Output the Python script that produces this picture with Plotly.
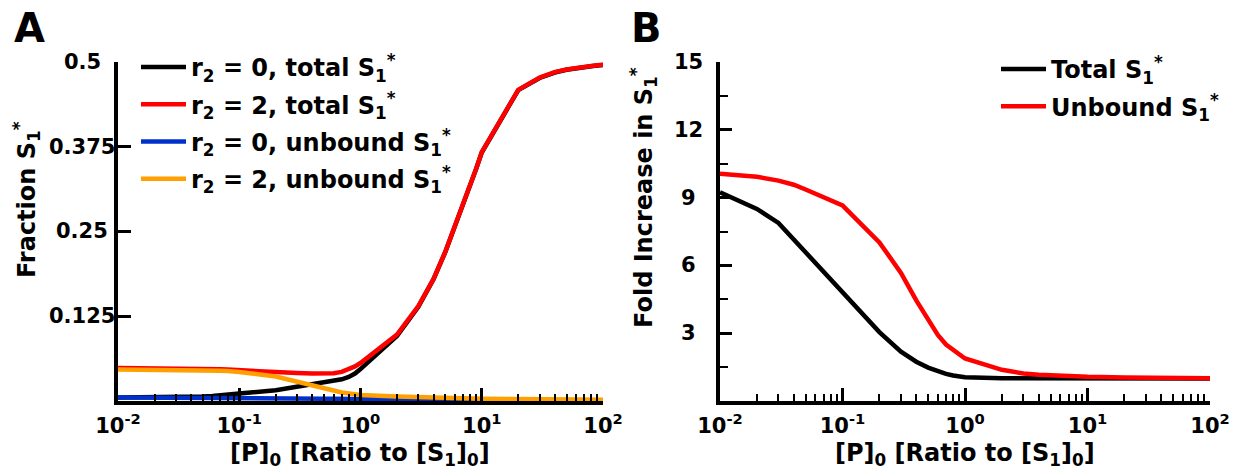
import plotly.graph_objects as go

# ---------------- data ----------------
p0 = [0.01, 0.02, 0.03, 0.04, 0.05, 0.06, 0.07, 0.08, 0.09,
      0.1, 0.2, 0.3, 0.4, 0.5, 0.6, 0.7, 0.8, 0.9,
      1, 2, 3, 4, 5, 6, 7, 8, 9,
      10, 20, 30, 40, 50, 60, 70, 80, 90, 100]

# Panel A: fraction S1*
total_r0 = [0.0052, 0.0054, 0.0057, 0.0062, 0.0068, 0.0075, 0.0083, 0.0091, 0.0100,
            0.0110, 0.0158, 0.0205, 0.0245, 0.0275, 0.0300, 0.0320, 0.0355, 0.0405,
            0.0470, 0.0960, 0.1390, 0.1795, 0.2195, 0.2565, 0.2895, 0.3175, 0.3425,
            0.3665, 0.4585, 0.4765, 0.4845, 0.4885, 0.4910, 0.4926, 0.4938, 0.4948, 0.4956]
total_r2 = [0.0488, 0.0487, 0.0486, 0.0484, 0.0481, 0.0477, 0.0470, 0.0464, 0.0458,
            0.0452, 0.0430, 0.0412, 0.0404, 0.0403, 0.0410, 0.0430, 0.0465, 0.0510,
            0.0560, 0.0980, 0.1400, 0.1800, 0.2200, 0.2570, 0.2900, 0.3180, 0.3430,
            0.3670, 0.4590, 0.4770, 0.4850, 0.4890, 0.4915, 0.4930, 0.4942, 0.4952, 0.4960]
unbound_r0 = [0.0050, 0.0050, 0.0050, 0.0049, 0.0049, 0.0049, 0.0048, 0.0048, 0.0048,
              0.0047, 0.0044, 0.0041, 0.0038, 0.0035, 0.0032, 0.0030, 0.0028, 0.0026,
              0.0024, 0.0013, 0.0009, 0.0007, 0.0006, 0.0005, 0.0004, 0.0004, 0.0003,
              0.0003, 0.0002, 0.0001, 0.0001, 0.0001, 0.0001, 0.0000, 0.0000, 0.0000, 0.0000]
unbound_r2 = [0.0463, 0.0462, 0.0460, 0.0458, 0.0455, 0.0451, 0.0446, 0.0441, 0.0435,
              0.0428, 0.0360, 0.0290, 0.0230, 0.0190, 0.0155, 0.0125, 0.0110, 0.0098,
              0.0090, 0.0065, 0.0055, 0.0048, 0.0044, 0.0041, 0.0038, 0.0036, 0.0035,
              0.0034, 0.0028, 0.0025, 0.0023, 0.0022, 0.0021, 0.0020, 0.0020, 0.0019, 0.0019]

# Panel B: fold increase in S1*
fold_total = [9.24, 8.50, 7.88, 7.14, 6.55, 6.08, 5.69, 5.35, 5.05,
              4.78, 3.05, 2.18, 1.74, 1.48, 1.31, 1.20, 1.13, 1.08,
              1.05, 1.01, 1.005, 1.0, 1.0, 1.0, 1.0, 1.0, 1.0,
              1.0, 1.0, 1.0, 1.0, 1.0, 1.0, 1.0, 1.0, 1.0, 1.0]
fold_unbound = [10.06, 9.92, 9.75, 9.57, 9.36, 9.17, 9.01, 8.88, 8.76,
                8.65, 7.02, 5.67, 4.45, 3.58, 2.92, 2.50, 2.26, 2.05,
                1.88, 1.38, 1.22, 1.16, 1.13, 1.11, 1.10, 1.09, 1.08,
                1.07, 1.04, 1.03, 1.025, 1.02, 1.02, 1.015, 1.015, 1.01, 1.01]

x_tickvals = [0.01, 0.1, 1, 10, 100]
x_ticktext = ["10<sup>-2</sup>", "10<sup>-1</sup>", "10<sup>0</sup>", "10<sup>1</sup>", "10<sup>2</sup>"]
yA_tickvals = [0.125, 0.25, 0.375, 0.5]
yA_ticktext = ["0.125", "0.25", "0.375", "0.5"]
yB_tickvals = [3, 6, 9, 12, 15]
yB_ticktext = ["3", "6", "9", "12", "15"]
yB_minor = [1.5, 4.5, 7.5, 10.5, 13.5]

names_A = ["r<sub>2</sub> = 0, total S<sub>1</sub><sup>*</sup>",
           "r<sub>2</sub> = 2, total S<sub>1</sub><sup>*</sup>",
           "r<sub>2</sub> = 0, unbound S<sub>1</sub><sup>*</sup>",
           "r<sub>2</sub> = 2, unbound S<sub>1</sub><sup>*</sup>"]
names_B = ["Total S<sub>1</sub><sup>*</sup>", "Unbound S<sub>1</sub><sup>*</sup>"]

BLACK, RED, BLUE, ORANGE = "#000000", "#ff0000", "#0030cc", "#ffa000"
FONT = "DejaVu Sans"
LW = 4.5

# ---------------- figure ----------------
fig = go.Figure()
for i, (ys, nm, col) in enumerate(zip([total_r0, total_r2, unbound_r0, unbound_r2], names_A,
                                      [BLACK, RED, BLUE, ORANGE])):
    fig.add_trace(go.Scatter(x=p0, y=ys, mode="lines", name=nm,
                             line=dict(color=col, width=LW), legendgroup="a%d" % i,
                             xaxis="x", yaxis="y", legend="legend"))
for i, (ys, nm, col) in enumerate(zip([fold_total, fold_unbound], names_B, [BLACK, RED])):
    fig.add_trace(go.Scatter(x=p0, y=ys, mode="lines", name=nm,
                             line=dict(color=col, width=LW), legendgroup="b%d" % i,
                             xaxis="x2", yaxis="y2", legend="legend2"))

W, H = 1234, 474
minor_x = [d * 10 ** e for e in (-2, -1, 0, 1) for d in range(2, 10)]

def xaxis(domain, anchor):
    return dict(domain=domain, anchor=anchor, type="log", range=[-2, 2],
                showline=True, linecolor="black", linewidth=4, mirror=False,
                showgrid=False, zeroline=False, automargin=False,
                tickvals=x_tickvals, ticktext=x_ticktext,
                ticks="inside", ticklen=13, tickwidth=3, tickcolor="black",
                minor=dict(tickvals=minor_x, ticks="inside", ticklen=7,
                           tickwidth=2, tickcolor="black", showgrid=False),
                tickfont=dict(family=FONT, size=21, color="black", weight="bold"),
                ticklabelstandoff=3, fixedrange=True)

ydom = [1 - 401 / H, 1 - 62 / H]
fig.update_layout(
    width=W, height=H, margin=dict(l=0, r=0, t=0, b=0, autoexpand=False),
    paper_bgcolor="white", plot_bgcolor="white",
    xaxis=xaxis([118 / W, 603 / W], "y"),
    xaxis2=xaxis([720 / W, 1210 / W], "y2"),
    yaxis=dict(domain=ydom, anchor="x", range=[0, 0.5], automargin=False,
               showline=True, linecolor="black", linewidth=4,
               showgrid=False, zeroline=False, fixedrange=True,
               tickvals=yA_tickvals, showticklabels=False,
               ticks="inside", ticklen=13, tickwidth=3, tickcolor="black"),
    yaxis2=dict(domain=ydom, anchor="x2", range=[0, 15], automargin=False,
                showline=True, linecolor="black", linewidth=4,
                showgrid=False, zeroline=False, fixedrange=True,
                tickvals=yB_tickvals, showticklabels=False,
                ticks="inside", ticklen=12, tickwidth=3, tickcolor="black",
                minor=dict(tickvals=yB_minor, ticks="inside", ticklen=8,
                           tickwidth=2, tickcolor="black", showgrid=False)),
    legend=dict(x=136 / W, y=1 - 45 / H, xanchor="left", yanchor="top",
                bgcolor="rgba(0,0,0,0)", borderwidth=0,
                font=dict(family=FONT, size=24, color="black", weight="bold"),
                itemwidth=45, tracegroupgap=3),
    legend2=dict(x=996 / W, y=1 - 47 / H, xanchor="left", yanchor="top",
                 bgcolor="rgba(0,0,0,0)", borderwidth=0,
                 font=dict(family=FONT, size=24, color="black", weight="bold"),
                 itemwidth=45, tracegroupgap=3),
    showlegend=True,
)

ann = []
tfont = dict(family=FONT, size=21, color="black", weight="bold")
for v, t in zip(yA_tickvals, yA_ticktext):
    ann.append(dict(x=82 / W, xref="paper", y=v, yref="y", text=t, showarrow=False,
                    xanchor="center", yanchor="middle", font=tfont))
for v, t in zip(yB_tickvals, yB_ticktext):
    ann.append(dict(x=688 / W, xref="paper", y=v, yref="y2", text=t, showarrow=False,
                    xanchor="center", yanchor="middle", font=tfont))

title_font = dict(family=FONT, size=24, color="black", weight="bold")
xtitle = "[P]<sub>0</sub> [Ratio to [S<sub>1</sub>]<sub>0</sub>]"
ann.append(dict(x=360 / W, y=1 - 454 / H, xref="paper", yref="paper", text=xtitle,
                showarrow=False, xanchor="center", yanchor="middle", font=title_font))
ann.append(dict(x=965 / W, y=1 - 454 / H, xref="paper", yref="paper", text=xtitle,
                showarrow=False, xanchor="center", yanchor="middle", font=title_font))
ann.append(dict(x=27 / W, y=1 - 200 / H, xref="paper", yref="paper",
                text="Fraction S<sub>1</sub><sup>*</sup>", textangle=-90,
                showarrow=False, xanchor="center", yanchor="middle", font=title_font))
ann.append(dict(x=643 / W, y=1 - 198 / H, xref="paper", yref="paper",
                text="Fold Increase in S<sub>1</sub><sup>*</sup>", textangle=-90,
                showarrow=False, xanchor="center", yanchor="middle", font=title_font))
panel_font = dict(family=FONT, size=40, color="black", weight="bold")
ann.append(dict(x=29 / W, y=1 - 28 / H, xref="paper", yref="paper", text="A",
                showarrow=False, xanchor="center", yanchor="middle", font=panel_font))
ann.append(dict(x=646 / W, y=1 - 28 / H, xref="paper", yref="paper", text="B",
                showarrow=False, xanchor="center", yanchor="middle", font=panel_font))
fig.update_layout(annotations=ann)

fig.write_html("out.html", config={"displayModeBar": False, "staticPlot": True},
               post_script="document.body.style.margin='0';document.body.style.overflow='hidden';")
